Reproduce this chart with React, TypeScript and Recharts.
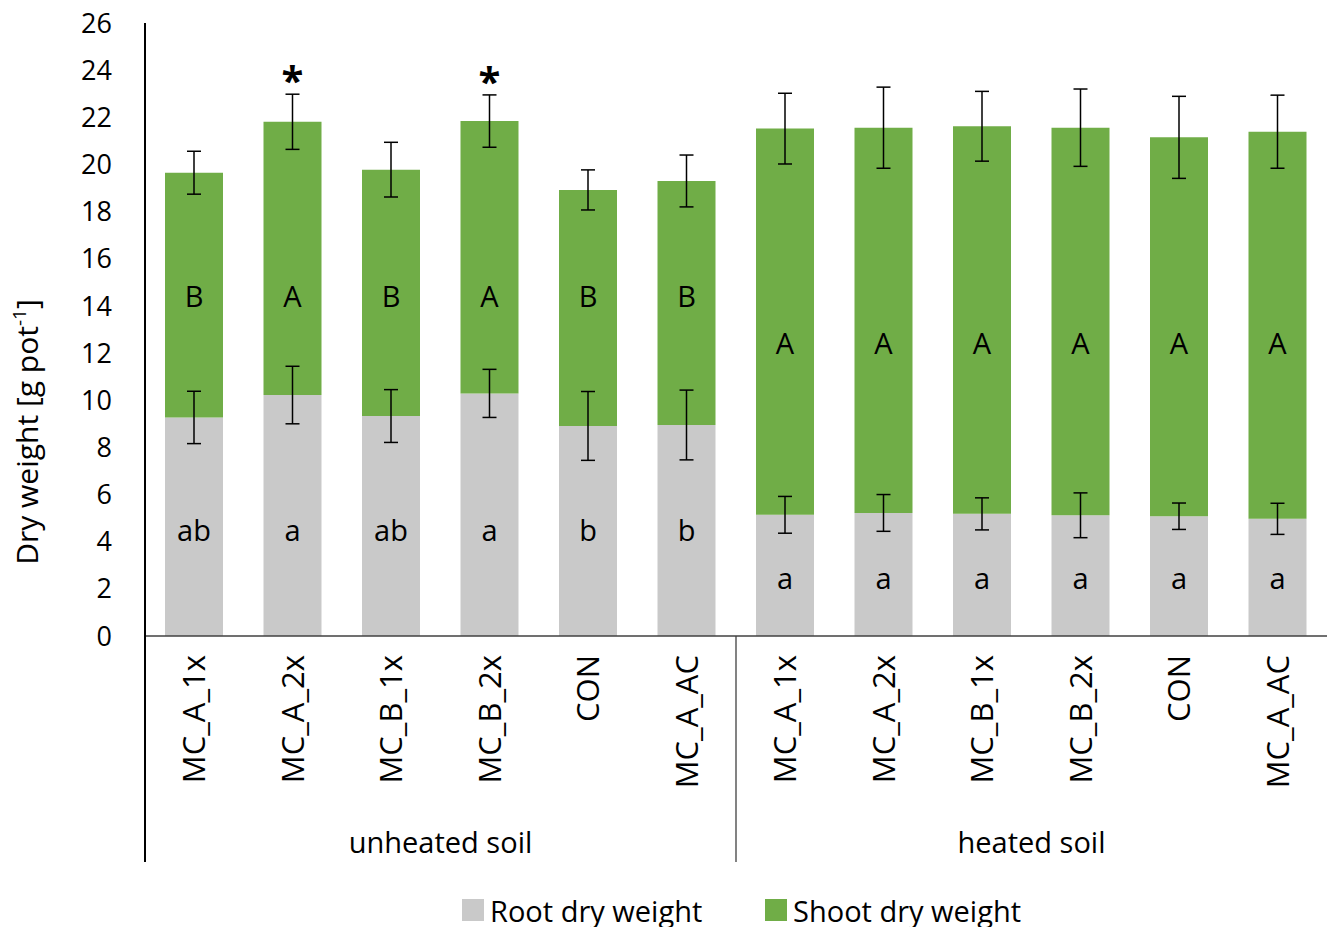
import React from 'react';
import { BarChart, Bar, XAxis, YAxis, ErrorBar, LabelList, Legend } from 'recharts';

const categories = [
  'MC_A_1x', 'MC_A_2x', 'MC_B_1x', 'MC_B_2x', 'CON', 'MC_A_AC',
  'MC_A_1x', 'MC_A_2x', 'MC_B_1x', 'MC_B_2x', 'CON', 'MC_A_AC',
];
const groups = ['unheated soil', 'heated soil'];
const rootWeight = [9.27, 10.22, 9.33, 10.29, 8.91, 8.95, 5.14, 5.22, 5.18, 5.12, 5.08, 4.97];
const shootWeight = [10.38, 11.59, 10.45, 11.55, 10.01, 10.35, 16.38, 16.34, 16.44, 16.44, 16.07, 16.42];
const rootError = [1.11, 1.22, 1.12, 1.02, 1.46, 1.48, 0.78, 0.78, 0.68, 0.95, 0.56, 0.66];
const shootError = [0.91, 1.17, 1.16, 1.11, 0.85, 1.1, 1.5, 1.72, 1.48, 1.64, 1.74, 1.55];
const rootLetters = ['ab', 'a', 'ab', 'a', 'b', 'b', 'a', 'a', 'a', 'a', 'a', 'a'];
const shootLetters = ['B', 'A', 'B', 'A', 'B', 'B', 'A', 'A', 'A', 'A', 'A', 'A'];
const significance = ['', '*', '', '*', '', '', '', '', '', '', '', ''];
const yTicks = [0, 2, 4, 6, 8, 10, 12, 14, 16, 18, 20, 22, 24, 26];

const W = 1327;
const H = 927;
const LEFT = 145;
const BAND = (W - LEFT) / categories.length;
const FONT = '"Open Sans", Lato, sans-serif';
const ROOT_COLOR = '#C9C9C9';
const SHOOT_COLOR = '#70AD47';
// baseline levels (in axis units) of the letter labels for each soil group
const ROOT_LABEL_LEVEL = [4.05, 2.0];
const SHOOT_LABEL_LEVEL = [13.95, 11.95];

const data = categories.map((c, i) => ({
  idx: i,
  name: c,
  root: rootWeight[i],
  shoot: shootWeight[i],
  rootErr: rootError[i],
  shootErr: shootError[i],
  rootLetter: rootLetters[i],
  shootLetter: shootLetters[i],
  sig: significance[i],
}));

const RootLabel = (props: any) => {
  const { x, y, width, height, value, index } = props;
  const pxPer = height / rootWeight[index];
  const base = y + height;
  const ty = base - ROOT_LABEL_LEVEL[index < 6 ? 0 : 1] * pxPer;
  return (
    <text x={x + width / 2} y={ty} textAnchor="middle"
      fontFamily={FONT} fontSize={29} fill="#000">{value}</text>
  );
};

const ShootLabel = (props: any) => {
  const { x, y, width, height, value, index } = props;
  const pxPer = height / shootWeight[index];
  const zero = y + height + rootWeight[index] * pxPer;
  const ty = zero - SHOOT_LABEL_LEVEL[index < 6 ? 0 : 1] * pxPer;
  return (
    <text x={x + width / 2} y={ty} textAnchor="middle"
      fontFamily={FONT} fontSize={29} fill="#000">{value}</text>
  );
};

const SigLabel = (props: any) => {
  const { x, y, width, height, value, index } = props;
  if (!value) return null;
  const pxPer = height / shootWeight[index];
  const errTop = y - shootError[index] * pxPer;
  return (
    <text x={x + width / 2} y={errTop + 1} textAnchor="middle"
      fontFamily={FONT} fontWeight="bold" fontSize={40} fill="#000">{value}</text>
  );
};

const CategoryTick = (props: any) => {
  const { x, y, payload } = props;
  const i = payload.value as number;
  const first = i % 6 === 0;
  return (
    <g>
      <text transform={`rotate(-90, ${x}, ${y + 19})`} x={x} y={y + 19} dy="0.36em"
        textAnchor="end" fontFamily={FONT} fontSize={31} fill="#000">{categories[i]}</text>
      {first && (
        <line x1={x - BAND / 2} y1={y} x2={x - BAND / 2} y2={y + 226}
          stroke={i === 0 ? '#000' : '#404040'} strokeWidth={i === 0 ? 2 : 1.3} />
      )}
      {first && (
        <text x={x + 2.5 * BAND} y={y + 207} dy="0.35em" textAnchor="middle"
          fontFamily={FONT} fontSize={29} fill="#000">{groups[i / 6]}</text>
      )}
    </g>
  );
};

const YTitle = () => (
  <text transform="rotate(-90, 27, 432)" x={27} y={432} dy="0.35em" textAnchor="middle"
    fontFamily={FONT} fontSize={30} fill="#000">
    Dry weight [g pot<tspan dy="-12" fontSize={19}>-1</tspan><tspan dy="12">]</tspan>
  </text>
);

const LegendContent = () => (
  <div style={{ position: 'relative', height: 65, width: W, fontFamily: FONT, fontSize: 29, color: '#000' }}>
    <div style={{ position: 'absolute', left: 462, top: 28, height: 40, display: 'flex', alignItems: 'center' }}>
      <span style={{ display: 'inline-block', width: 22, height: 22, background: ROOT_COLOR, marginRight: 6 }} />
      <span style={{ whiteSpace: 'nowrap' }}>Root dry weight</span>
    </div>
    <div style={{ position: 'absolute', left: 765, top: 28, height: 40, display: 'flex', alignItems: 'center' }}>
      <span style={{ display: 'inline-block', width: 22, height: 22, background: SHOOT_COLOR, marginRight: 6 }} />
      <span style={{ whiteSpace: 'nowrap' }}>Shoot dry weight</span>
    </div>
  </div>
);

export default function App() {
  return (
    <div style={{ position: 'absolute', left: 0, top: 0, width: W, height: H, background: '#fff' }}>
      <BarChart width={W} height={H} data={data}
        margin={{ top: 23, right: 0, bottom: 0, left: 0 }} barSize={58}>
        <XAxis dataKey="idx" type="category" height={226} tickLine={false} tickSize={0} tickMargin={0}
          axisLine={{ stroke: '#404040', strokeWidth: 1.5 }} tick={<CategoryTick />} interval={0} />
        <YAxis type="number" domain={[0, 26]} ticks={yTicks} width={LEFT} tickLine={false}
          tickSize={0} tickMargin={33} interval={0}
          axisLine={{ stroke: '#000', strokeWidth: 2 }}
          tick={{ fill: '#000', fontSize: 27, fontFamily: FONT }}
          label={{ content: <YTitle /> }} />
        <Legend verticalAlign="bottom" height={65} wrapperStyle={{ left: 0, width: W }}
          content={<LegendContent />} />
        <Bar dataKey="root" stackId="s" fill={ROOT_COLOR} name="Root dry weight" isAnimationActive={false}>
          <ErrorBar dataKey="rootErr" width={7} stroke="#000" strokeWidth={1.5} direction="y" />
          <LabelList dataKey="rootLetter" content={<RootLabel />} />
        </Bar>
        <Bar dataKey="shoot" stackId="s" fill={SHOOT_COLOR} name="Shoot dry weight" isAnimationActive={false}>
          <ErrorBar dataKey="shootErr" width={7} stroke="#000" strokeWidth={1.5} direction="y" />
          <LabelList dataKey="shootLetter" content={<ShootLabel />} />
          <LabelList dataKey="sig" content={<SigLabel />} />
        </Bar>
      </BarChart>
    </div>
  );
}
